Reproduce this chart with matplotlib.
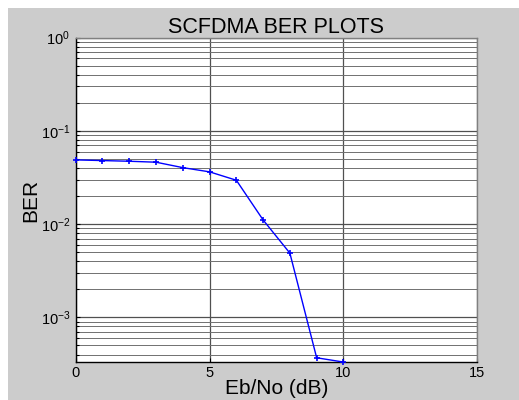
import matplotlib
matplotlib.use("Agg")
import matplotlib.pyplot as plt
from matplotlib.patches import Rectangle
from matplotlib.ticker import LogLocator, FixedLocator

ebno = [0, 1, 2, 3, 4, 5, 6, 7, 8, 9, 10]
ber = [0.0489, 0.0481, 0.0473, 0.0462, 0.0404, 0.0364, 0.0296, 0.0111, 0.00489, 0.000369, 0.000332]
xticks = [0, 5, 10, 15]
yticks = [1e-3, 1e-2, 1e-1, 1e0]
ytick_labels = [r"$10^{-3}$", r"$10^{-2}$", r"$10^{-1}$", r"$10^{0}$"]

plt.rcParams['font.family'] = ['Liberation Sans', 'DejaVu Sans']
plt.rcParams['mathtext.fontset'] = 'custom'
plt.rcParams['mathtext.rm'] = 'Liberation Sans'
plt.rcParams['mathtext.it'] = 'Liberation Sans'

W, H = 519, 400
fig = plt.figure(figsize=(W / 100, H / 100), dpi=100, facecolor='white')
fig.patches.append(Rectangle((8 / W, 0), 1 - 8 / W, 1 - 8 / H, transform=fig.transFigure,
                             facecolor='#cccccc', edgecolor='none', zorder=-10))

left, right, top, bottom = 75.7, 477.3, 37.7, 362.3
ax = fig.add_axes([left / W, 1 - bottom / H, (right - left) / W, (bottom - top) / H])
ax.set_facecolor('white')

ax.semilogy(ebno, ber, color='#0000ff', marker='+', markersize=4, markeredgewidth=1.2,
            linewidth=1.0, zorder=5, clip_on=False)

ax.set_xlim(0, 15)
ax.set_ylim(3.3e-4, 1.0)
ax.xaxis.set_major_locator(FixedLocator(xticks))
ax.yaxis.set_major_locator(FixedLocator(yticks))
ax.set_yticklabels(ytick_labels)
ax.yaxis.set_minor_locator(LogLocator(base=10, subs=[2, 3, 4, 5, 6, 7, 8, 9], numticks=20))
ax.yaxis.set_minor_formatter(plt.NullFormatter())

ax.grid(True, which='major', axis='both', color='#505050', linewidth=0.9)
ax.grid(True, which='minor', axis='y', color='#707070', linewidth=0.7)
ax.set_axisbelow(True)

ax.tick_params(which='both', direction='in', length=3, width=0.8, colors='black', labelsize=10.5)
ax.tick_params(which='minor', length=2)
ax.tick_params(axis='x', pad=3)
ax.tick_params(axis='y', pad=4)

for s in ['left', 'bottom']:
    ax.spines[s].set_color('black')
    ax.spines[s].set_linewidth(1.0)
for s in ['top', 'right']:
    ax.spines[s].set_color('#808080')
    ax.spines[s].set_linewidth(1.0)

ax.set_title('SCFDMA BER PLOTS', fontsize=15.5, pad=2)
ax.set_xlabel('Eb/No (dB)', fontsize=15)
ax.xaxis.label.set_va('baseline')
ax.xaxis.set_label_coords(0.5, (bottom - 394.5) / (bottom - top))
ax.set_ylabel('BER', fontsize=15)
ax.yaxis.label.set_va('center')
ax.yaxis.set_label_coords((30.5 - left) / (right - left), 0.5)

fig.savefig('out.png', dpi=100, facecolor=fig.get_facecolor())
